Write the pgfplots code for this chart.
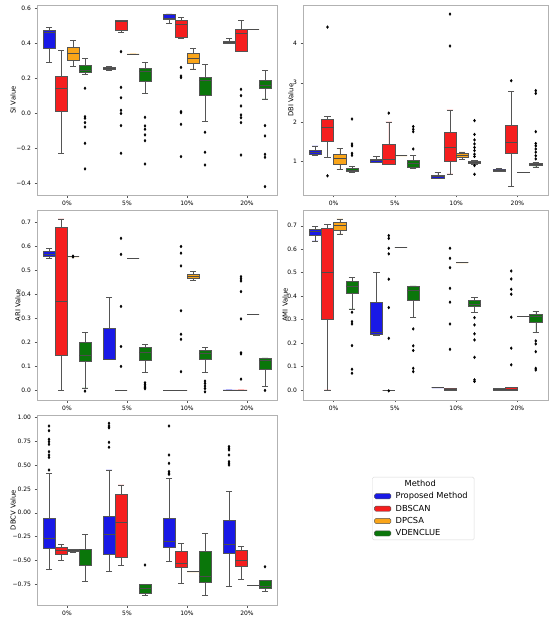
\documentclass[border=0pt]{standalone}
\usepackage{fontspec}
\setmainfont{DejaVu Sans}
\usepackage{pgfplots}
\pgfplotsset{compat=1.18}
\usepgfplotslibrary{statistics}
\definecolor{cB}{RGB}{25,25,230}
\definecolor{cR}{RGB}{245,30,30}
\definecolor{cO}{RGB}{250,165,25}
\definecolor{cG}{RGB}{10,118,10}
\definecolor{edge}{RGB}{85,85,85}
\pgfplotsset{
  panel/.style={scale only axis, width=240pt, height=190pt, anchor=north west,
    xmin=-0.5, xmax=3.5, xtick={0,1,2,3}, xticklabels={0\%,5\%,10\%,20\%},
    tick align=outside, xtick pos=bottom, ytick pos=left, major tick length=2.5pt,
    tick style={edge, line width=0.4pt}, axis line style={gray!60, line width=0.6pt},
    tick label style={font=\fontsize{6}{7}\selectfont},
    boxplot/draw direction=y, boxplot/box extend=0.2, boxplot/whisker extend=0.1,
    clip=false},
  bx/.style={forget plot, draw=edge, line width=0.5pt, fill=#1, solid,
    mark=diamond*, mark size=1.3pt, mark options={fill=black, draw=black, solid},
    boxplot/every median/.style={draw=black!70, line width=0.6pt},
    boxplot/every whisker/.style={draw=edge, line width=0.5pt}}
}
\tikzset{ylabnode/.style={rotate=90, anchor=center, font=\fontsize{6.8}{8}\selectfont, inner sep=0pt}}
\begin{document}
\begin{tikzpicture}
\path (0,0) rectangle (550pt,-620pt);
% ---------------- SI ----------------
\begin{axis}[panel, at={(37pt,-5pt)}, ymin=-0.465, ymax=0.619,
  ytick={-0.4,-0.2,0,0.2,0.4,0.6}, yticklabels={−0.4,−0.2,0.0,0.2,0.4,0.6}]
\node[ylabnode] at (axis description cs:-0.1,0.5) {SI Value};
\addplot[bx=cB, boxplot prepared={draw position=-0.3, lower whisker=0.292, lower quartile=0.372, median=0.461, upper quartile=0.476, upper whisker=0.492}] coordinates {};
\addplot[bx=cR, boxplot prepared={draw position=-0.1, lower whisker=-0.227, lower quartile=0.011, median=0.144, upper quartile=0.214, upper whisker=0.359}] coordinates {};
\addplot[bx=cO, boxplot prepared={draw position=0.1, lower whisker=0.267, lower quartile=0.305, median=0.343, upper quartile=0.379, upper whisker=0.416}] coordinates {};
\addplot[bx=cG, boxplot prepared={draw position=0.3, lower whisker=0.225, lower quartile=0.235, median=0.248, upper quartile=0.275, upper whisker=0.315}] table[row sep=\\, y index=0] {data\\ 0.144\\ -0.018\\ -0.027\\ -0.052\\ -0.077\\ -0.17\\ -0.316\\};
\addplot[bx=cB, boxplot prepared={draw position=0.7, lower whisker=0.249, lower quartile=0.253, median=0.257, upper quartile=0.261, upper whisker=0.268}] coordinates {};
\addplot[bx=cR, boxplot prepared={draw position=0.9, lower whisker=0.463, lower quartile=0.476, median=0.524, upper quartile=0.530, upper whisker=0.530}] table[row sep=\\, y index=0] {data\\ 0.353\\ 0.149\\ 0.09\\ 0.018\\ 0.0\\ -0.069\\ -0.227\\};
\addplot[bx=cO, boxplot prepared={draw position=1.1, lower whisker=0.34, lower quartile=0.34, median=0.34, upper quartile=0.34, upper whisker=0.34}] coordinates {};
\addplot[bx=cG, boxplot prepared={draw position=1.3, lower whisker=0.115, lower quartile=0.186, median=0.243, upper quartile=0.258, upper whisker=0.29}] table[row sep=\\, y index=0] {data\\ -0.022\\ -0.071\\ -0.09\\ -0.122\\ -0.155\\ -0.288\\};
\addplot[bx=cB, boxplot prepared={draw position=1.7, lower whisker=0.514, lower quartile=0.539, median=0.543, upper quartile=0.568, upper whisker=0.568}] coordinates {};
\addplot[bx=cR, boxplot prepared={draw position=1.9, lower whisker=0.429, lower quartile=0.435, median=0.511, upper quartile=0.533, upper whisker=0.547}] table[row sep=\\, y index=0] {data\\ 0.263\\ 0.214\\ 0.205\\ 0.011\\ 0.005\\ -0.062\\ -0.246\\};
\addplot[bx=cO, boxplot prepared={draw position=2.1, lower whisker=0.254, lower quartile=0.286, median=0.315, upper quartile=0.343, upper whisker=0.372}] coordinates {};
\addplot[bx=cG, boxplot prepared={draw position=2.3, lower whisker=-0.046, lower quartile=0.106, median=0.191, upper quartile=0.206, upper whisker=0.281}] table[row sep=\\, y index=0] {data\\ -0.107\\ -0.221\\ -0.294\\};
\addplot[bx=cB, boxplot prepared={draw position=2.7, lower whisker=0.400, lower quartile=0.400, median=0.406, upper quartile=0.414, upper whisker=0.429}] coordinates {};
\addplot[bx=cR, boxplot prepared={draw position=2.9, lower whisker=0.353, lower quartile=0.353, median=0.457, upper quartile=0.482, upper whisker=0.533}] table[row sep=\\, y index=0] {data\\ 0.138\\ 0.102\\ 0.043\\ -0.008\\ -0.024\\ -0.052\\ -0.237\\};
\addplot[bx=cO, boxplot prepared={draw position=3.1, lower whisker=0.482, lower quartile=0.482, median=0.482, upper quartile=0.482, upper whisker=0.482}] coordinates {};
\addplot[bx=cG, boxplot prepared={draw position=3.3, lower whisker=0.083, lower quartile=0.144, median=0.163, upper quartile=0.187, upper whisker=0.248}] table[row sep=\\, y index=0] {data\\ -0.069\\ -0.128\\ -0.233\\ -0.25\\ -0.417\\};
\end{axis}
% ---------------- DBI ----------------
\begin{axis}[panel, width=245pt, at={(303pt,-5pt)}, ymin=0.155, ymax=4.97,
  ytick={1,2,3,4}, yticklabels={1,2,3,4}]
\node[ylabnode] at (axis description cs:-0.05,0.5) {DBI Value};
\addplot[bx=cB, boxplot prepared={draw position=-0.3, lower whisker=1.17, lower quartile=1.19, median=1.245, upper quartile=1.30, upper whisker=1.40}] coordinates {};
\addplot[bx=cR, boxplot prepared={draw position=-0.1, lower whisker=1.11, lower quartile=1.51, median=1.87, upper quartile=2.07, upper whisker=2.14}] table[row sep=\\, y index=0] {data\\ 4.41\\ 0.64\\};
\addplot[bx=cO, boxplot prepared={draw position=0.1, lower whisker=0.805, lower quartile=0.94, median=1.085, upper quartile=1.19, upper whisker=1.34}] coordinates {};
\addplot[bx=cG, boxplot prepared={draw position=0.3, lower whisker=0.72, lower quartile=0.746, median=0.79, upper quartile=0.83, upper whisker=0.873}] table[row sep=\\, y index=0] {data\\ 2.08\\ 1.45\\ 1.40\\ 1.21\\ 1.16\\};
\addplot[bx=cB, boxplot prepared={draw position=0.7, lower whisker=0.975, lower quartile=0.975, median=1.025, upper quartile=1.06, upper whisker=1.127}] coordinates {};
\addplot[bx=cR, boxplot prepared={draw position=0.9, lower whisker=0.94, lower quartile=0.94, median=1.07, upper quartile=1.44, upper whisker=2.01}] table[row sep=\\, y index=0] {data\\ 2.23\\};
\addplot[bx=cO, boxplot prepared={draw position=1.1, lower whisker=1.15, lower quartile=1.15, median=1.15, upper quartile=1.15, upper whisker=1.15}] coordinates {};
\addplot[bx=cG, boxplot prepared={draw position=1.3, lower whisker=0.83, lower quartile=0.87, median=0.96, upper quartile=1.025, upper whisker=1.15}] table[row sep=\\, y index=0] {data\\ 1.89\\ 1.82\\ 1.76\\ 1.32\\};
\addplot[bx=cB, boxplot prepared={draw position=1.7, lower whisker=0.58, lower quartile=0.58, median=0.62, upper quartile=0.66, upper whisker=0.72}] coordinates {};
\addplot[bx=cR, boxplot prepared={draw position=1.9, lower whisker=0.69, lower quartile=1.0, median=1.355, upper quartile=1.735, upper whisker=2.31}] table[row sep=\\, y index=0] {data\\ 4.74\\ 3.93\\};
\addplot[bx=cO, boxplot prepared={draw position=2.1, lower whisker=1.06, lower quartile=1.10, median=1.17, upper quartile=1.21, upper whisker=1.25}] coordinates {};
\addplot[bx=cG, boxplot prepared={draw position=2.3, lower whisker=0.93, lower quartile=0.958, median=0.983, upper quartile=1.017, upper whisker=1.04}] table[row sep=\\, y index=0] {data\\ 2.04\\ 1.69\\ 1.55\\ 1.45\\ 1.36\\ 1.28\\ 1.19\\ 1.13\\ 0.90\\ 0.68\\};
\addplot[bx=cB, boxplot prepared={draw position=2.7, lower whisker=0.76, lower quartile=0.76, median=0.79, upper quartile=0.805, upper whisker=0.83}] coordinates {};
\addplot[bx=cR, boxplot prepared={draw position=2.9, lower whisker=0.38, lower quartile=1.21, median=1.48, upper quartile=1.91, upper whisker=2.79}] table[row sep=\\, y index=0] {data\\ 3.05\\};
\addplot[bx=cO, boxplot prepared={draw position=3.1, lower whisker=0.73, lower quartile=0.73, median=0.73, upper quartile=0.73, upper whisker=0.73}] coordinates {};
\addplot[bx=cG, boxplot prepared={draw position=3.3, lower whisker=0.87, lower quartile=0.90, median=0.93, upper quartile=0.958, upper whisker=0.975}] table[row sep=\\, y index=0] {data\\ 2.80\\ 2.73\\ 1.76\\ 1.46\\ 1.40\\ 1.32\\ 1.24\\ 1.15\\ 1.07\\};
\end{axis}
% ---------------- ARI ----------------
\begin{axis}[panel, at={(37pt,-210pt)}, ymin=-0.040, ymax=0.752,
  ytick={0,0.1,0.2,0.3,0.4,0.5,0.6,0.7}, yticklabels={0.0,0.1,0.2,0.3,0.4,0.5,0.6,0.7}]
\node[ylabnode] at (axis description cs:-0.08,0.5) {ARI Value};
\addplot[bx=cB, boxplot prepared={draw position=-0.3, lower whisker=0.551, lower quartile=0.558, median=0.569, upper quartile=0.579, upper whisker=0.592}] coordinates {};
\addplot[bx=cR, boxplot prepared={draw position=-0.1, lower whisker=0.0, lower quartile=0.147, median=0.371, upper quartile=0.679, upper whisker=0.715}] coordinates {};
\addplot[bx=cO, boxplot prepared={draw position=0.1, lower whisker=0.558, lower quartile=0.558, median=0.558, upper quartile=0.558, upper whisker=0.558}] table[row sep=\\, y index=0] {data\\ 0.560\\ 0.556\\};
\addplot[bx=cG, boxplot prepared={draw position=0.3, lower whisker=0.011, lower quartile=0.12, median=0.147, upper quartile=0.2, upper whisker=0.242}] table[row sep=\\, y index=0] {data\\ -0.003\\};
\addplot[bx=cB, boxplot prepared={draw position=0.7, lower whisker=0.129, lower quartile=0.129, median=0.129, upper quartile=0.259, upper whisker=0.389}] coordinates {};
\addplot[bx=cR, boxplot prepared={draw position=0.9, lower whisker=0.0, lower quartile=0.0, median=0.0, upper quartile=0.0, upper whisker=0.0}] table[row sep=\\, y index=0] {data\\ 0.634\\ 0.567\\ 0.35\\ 0.183\\ 0.10\\};
\addplot[bx=cO, boxplot prepared={draw position=1.1, lower whisker=0.551, lower quartile=0.551, median=0.551, upper quartile=0.551, upper whisker=0.551}] coordinates {};
\addplot[bx=cG, boxplot prepared={draw position=1.3, lower whisker=0.074, lower quartile=0.124, median=0.157, upper quartile=0.179, upper whisker=0.193}] table[row sep=\\, y index=0] {data\\ 0.032\\ 0.025\\ 0.018\\ 0.013\\ 0.007\\};
\addplot[bx=cB, boxplot prepared={draw position=1.7, lower whisker=0.0, lower quartile=0.0, median=0.0, upper quartile=0.0, upper whisker=0.0}] coordinates {};
\addplot[bx=cR, boxplot prepared={draw position=1.9, lower whisker=0.0, lower quartile=0.0, median=0.0, upper quartile=0.0, upper whisker=0.0}] table[row sep=\\, y index=0] {data\\ 0.6\\ 0.572\\ 0.519\\ 0.332\\ 0.234\\ 0.213\\ 0.078\\};
\addplot[bx=cO, boxplot prepared={draw position=2.1, lower whisker=0.458, lower quartile=0.467, median=0.477, upper quartile=0.485, upper whisker=0.495}] coordinates {};
\addplot[bx=cG, boxplot prepared={draw position=2.3, lower whisker=0.074, lower quartile=0.129, median=0.154, upper quartile=0.168, upper whisker=0.178}] table[row sep=\\, y index=0] {data\\ 0.039\\ 0.029\\ 0.018\\ 0.008\\ -0.006\\};
\addplot[bx=cB, boxplot prepared={draw position=2.7, lower whisker=0.002, lower quartile=0.002, median=0.002, upper quartile=0.002, upper whisker=0.002}] coordinates {};
\addplot[bx=cR, boxplot prepared={draw position=2.9, lower whisker=0.002, lower quartile=0.002, median=0.002, upper quartile=0.002, upper whisker=0.002}] table[row sep=\\, y index=0] {data\\ 0.474\\ 0.465\\ 0.456\\ 0.412\\ 0.298\\ 0.157\\ 0.152\\ 0.047\\};
\addplot[bx=cO, boxplot prepared={draw position=3.1, lower whisker=0.317, lower quartile=0.317, median=0.317, upper quartile=0.317, upper whisker=0.317}] coordinates {};
\addplot[bx=cG, boxplot prepared={draw position=3.3, lower whisker=0.018, lower quartile=0.088, median=0.127, upper quartile=0.134, upper whisker=0.136}] table[row sep=\\, y index=0] {data\\ 0.0\\};
\end{axis}
% ---------------- AMI ----------------
\begin{axis}[panel, width=245pt, at={(303pt,-210pt)}, ymin=-0.043, ymax=0.767,
  ytick={0,0.1,0.2,0.3,0.4,0.5,0.6,0.7}, yticklabels={0.0,0.1,0.2,0.3,0.4,0.5,0.6,0.7}]
\node[ylabnode] at (axis description cs:-0.073,0.5) {AMI Value};
\addplot[bx=cB, boxplot prepared={draw position=-0.3, lower whisker=0.635, lower quartile=0.658, median=0.675, upper quartile=0.686, upper whisker=0.696}] coordinates {};
\addplot[bx=cR, boxplot prepared={draw position=-0.1, lower whisker=0.0, lower quartile=0.303, median=0.5, upper quartile=0.689, upper whisker=0.706}] coordinates {};
\addplot[bx=cO, boxplot prepared={draw position=0.1, lower whisker=0.665, lower quartile=0.682, median=0.70, upper quartile=0.713, upper whisker=0.729}] coordinates {};
\addplot[bx=cG, boxplot prepared={draw position=0.3, lower whisker=0.345, lower quartile=0.412, median=0.443, upper quartile=0.462, upper whisker=0.48}] table[row sep=\\, y index=0] {data\\ 0.331\\ 0.291\\ 0.281\\ 0.189\\ 0.088\\ 0.071\\};
\addplot[bx=cB, boxplot prepared={draw position=0.7, lower whisker=0.232, lower quartile=0.239, median=0.244, upper quartile=0.372, upper whisker=0.5}] coordinates {};
\addplot[bx=cR, boxplot prepared={draw position=0.9, lower whisker=-0.002, lower quartile=-0.002, median=-0.002, upper quartile=-0.002, upper whisker=-0.002}] table[row sep=\\, y index=0] {data\\ 0.658\\ 0.646\\ 0.604\\ 0.58\\ 0.472\\ 0.351\\ 0.22\\ -0.004\\};
\addplot[bx=cO, boxplot prepared={draw position=1.1, lower whisker=0.608, lower quartile=0.608, median=0.608, upper quartile=0.608, upper whisker=0.608}] coordinates {};
\addplot[bx=cG, boxplot prepared={draw position=1.3, lower whisker=0.31, lower quartile=0.381, median=0.423, upper quartile=0.44, upper whisker=0.443}] table[row sep=\\, y index=0] {data\\ 0.26\\ 0.188\\ 0.168\\ 0.092\\ 0.078\\};
\addplot[bx=cB, boxplot prepared={draw position=1.7, lower whisker=0.01, lower quartile=0.01, median=0.01, upper quartile=0.01, upper whisker=0.01}] coordinates {};
\addplot[bx=cR, boxplot prepared={draw position=1.9, lower whisker=0.0, lower quartile=0.0, median=0.004, upper quartile=0.007, upper whisker=0.007}] table[row sep=\\, y index=0] {data\\ 0.604\\ 0.561\\ 0.521\\ 0.433\\ 0.374\\ 0.281\\ 0.173\\};
\addplot[bx=cO, boxplot prepared={draw position=2.1, lower whisker=0.543, lower quartile=0.543, median=0.543, upper quartile=0.543, upper whisker=0.543}] coordinates {};
\addplot[bx=cG, boxplot prepared={draw position=2.3, lower whisker=0.331, lower quartile=0.355, median=0.366, upper quartile=0.384, upper whisker=0.395}] table[row sep=\\, y index=0] {data\\ 0.308\\ 0.277\\ 0.239\\ 0.213\\ 0.139\\ 0.043\\ 0.036\\};
\addplot[bx=cB, boxplot prepared={draw position=2.7, lower whisker=0.0, lower quartile=0.0, median=0.003, upper quartile=0.007, upper whisker=0.007}] coordinates {};
\addplot[bx=cR, boxplot prepared={draw position=2.9, lower whisker=-0.003, lower quartile=-0.003, median=0.004, upper quartile=0.01, upper whisker=0.01}] table[row sep=\\, y index=0] {data\\ 0.507\\ 0.473\\ 0.429\\ 0.408\\ 0.31\\ 0.178\\ 0.107\\};
\addplot[bx=cO, boxplot prepared={draw position=3.1, lower whisker=0.315, lower quartile=0.315, median=0.315, upper quartile=0.315, upper whisker=0.315}] coordinates {};
\addplot[bx=cG, boxplot prepared={draw position=3.3, lower whisker=0.246, lower quartile=0.288, median=0.315, upper quartile=0.324, upper whisker=0.334}] table[row sep=\\, y index=0] {data\\ 0.209\\ 0.196\\ 0.163\\ 0.092\\ 0.085\\};
\end{axis}
% ---------------- DBCV ----------------
\begin{axis}[panel, at={(37pt,-415pt)}, ymin=-0.966, ymax=1.024,
  ytick={-0.75,-0.5,-0.25,0,0.25,0.5,0.75,1}, yticklabels={−0.75,−0.50,−0.25,0.00,0.25,0.50,0.75,1.00},
  legend style={at={(1.396,0.674)}, anchor=north west, draw=gray!30, fill=white, rounded corners=1.5pt,
    font=\fontsize{8.3}{10}\selectfont, row sep=2.3pt, inner xsep=2pt, inner ysep=1.5pt,
    nodes={inner xsep=4.5pt, inner ysep=1.2pt}},
  legend cell align=left]
\node[ylabnode] at (axis description cs:-0.1,0.5) {DBCV Value};
\addplot[bx=cB, boxplot prepared={draw position=-0.3, lower whisker=-0.593, lower quartile=-0.373, median=-0.268, upper quartile=-0.055, upper whisker=0.413}] table[row sep=\\, y index=0] {data\\ 0.909\\ 0.86\\ 0.77\\ 0.745\\ 0.717\\ 0.64\\ 0.605\\ 0.58\\ 0.448\\};
\addplot[bx=cR, boxplot prepared={draw position=-0.1, lower whisker=-0.495, lower quartile=-0.436, median=-0.39, upper quartile=-0.366, upper whisker=-0.331}] coordinates {};
\addplot[bx=cO, boxplot prepared={draw position=0.1, lower whisker=-0.415, lower quartile=-0.408, median=-0.397, upper quartile=-0.386, upper whisker=-0.380}] coordinates {};
\addplot[bx=cG, boxplot prepared={draw position=0.3, lower whisker=-0.722, lower quartile=-0.549, median=-0.386, upper quartile=-0.383, upper whisker=-0.226}] coordinates {};
\addplot[bx=cB, boxplot prepared={draw position=0.7, lower whisker=-0.61, lower quartile=-0.432, median=-0.226, upper quartile=-0.034, upper whisker=0.448}] table[row sep=\\, y index=0] {data\\ 0.937\\ 0.909\\ 0.89\\ 0.738\\ 0.686\\};
\addplot[bx=cR, boxplot prepared={draw position=0.9, lower whisker=-0.547, lower quartile=-0.467, median=-0.1, upper quartile=0.197, upper whisker=0.291}] coordinates {};
\addplot[bx=cG, boxplot prepared={draw position=1.3, lower whisker=-0.862, lower quartile=-0.844, median=-0.79, upper quartile=-0.746, upper whisker=-0.746}] table[row sep=\\, y index=0] {data\\ -0.547\\};
\addplot[bx=cB, boxplot prepared={draw position=1.7, lower whisker=-0.512, lower quartile=-0.366, median=-0.296, upper quartile=-0.058, upper whisker=0.361}] table[row sep=\\, y index=0] {data\\ 0.909\\ 0.605\\ 0.518\\ 0.431\\ 0.413\\ 0.403\\};
\addplot[bx=cR, boxplot prepared={draw position=1.9, lower whisker=-0.74, lower quartile=-0.575, median=-0.53, upper quartile=-0.4, upper whisker=-0.32}] coordinates {};
\addplot[bx=cO, boxplot prepared={draw position=2.1, lower whisker=-0.617, lower quartile=-0.617, median=-0.617, upper quartile=-0.617, upper whisker=-0.617}] coordinates {};
\addplot[bx=cG, boxplot prepared={draw position=2.3, lower whisker=-0.862, lower quartile=-0.732, median=-0.67, upper quartile=-0.408, upper whisker=-0.215}] coordinates {};
\addplot[bx=cB, boxplot prepared={draw position=2.7, lower whisker=-0.767, lower quartile=-0.425, median=-0.331, upper quartile=-0.076, upper whisker=0.228}] table[row sep=\\, y index=0] {data\\ 0.693\\ 0.675\\ 0.658\\ 0.605\\ 0.535\\ 0.518\\ 0.5\\};
\addplot[bx=cR, boxplot prepared={draw position=2.9, lower whisker=-0.694, lower quartile=-0.565, median=-0.502, upper quartile=-0.39, upper whisker=-0.355}] coordinates {};
\addplot[bx=cO, boxplot prepared={draw position=3.1, lower whisker=-0.757, lower quartile=-0.757, median=-0.757, upper quartile=-0.757, upper whisker=-0.757}] coordinates {};
\addplot[bx=cG, boxplot prepared={draw position=3.3, lower whisker=-0.827, lower quartile=-0.792, median=-0.767, upper quartile=-0.705, upper whisker=-0.705}] table[row sep=\\, y index=0] {data\\ -0.565\\};
\addlegendimage{empty legend}\addlegendentry{\hspace*{9pt}Method}
\addlegendimage{legend image code/.code={\draw[fill=cB, draw=edge, line width=0.4pt] (0pt,-2.6pt) rectangle (16.5pt,2.6pt);}}\addlegendentry{Proposed Method}
\addlegendimage{legend image code/.code={\draw[fill=cR, draw=edge, line width=0.4pt] (0pt,-2.6pt) rectangle (16.5pt,2.6pt);}}\addlegendentry{DBSCAN}
\addlegendimage{legend image code/.code={\draw[fill=cO, draw=edge, line width=0.4pt] (0pt,-2.6pt) rectangle (16.5pt,2.6pt);}}\addlegendentry{DPCSA}
\addlegendimage{legend image code/.code={\draw[fill=cG, draw=edge, line width=0.4pt] (0pt,-2.6pt) rectangle (16.5pt,2.6pt);}}\addlegendentry{VDENCLUE}
\end{axis}
\end{tikzpicture}
\end{document}
